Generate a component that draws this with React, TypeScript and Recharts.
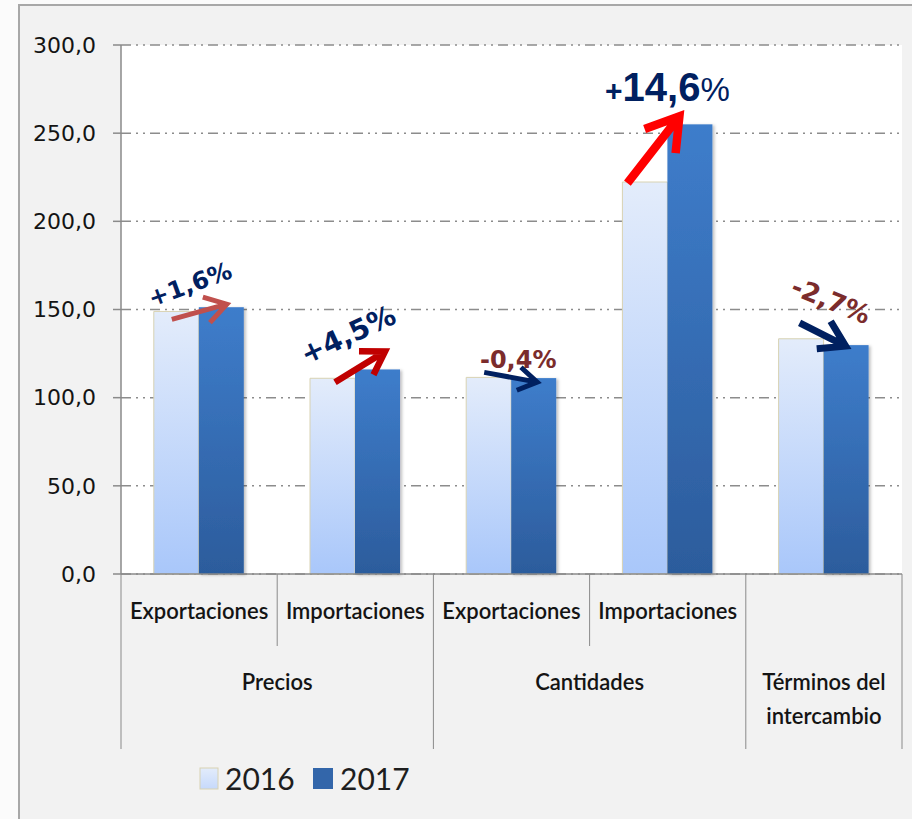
import React from 'react';
import { BarChart, Bar, XAxis, YAxis, CartesianGrid } from 'recharts';

// index values, 2016 vs 2017
const SUBCATEGORIES = ['Exportaciones', 'Importaciones', 'Exportaciones', 'Importaciones', ''];
const GROUPS = ['Precios', 'Precios', 'Cantidades', 'Cantidades', 'Términos del\nintercambio'];
const VALUES_2016 = [148.9, 111.0, 111.5, 222.3, 133.4];
const VALUES_2017 = [151.3, 116.0, 111.1, 255.0, 129.8];
const CHANGE_LABELS = ['+1,6%', '+4,5%', '-0,4%', '+14,6%', '-2,7%'];
const SERIES = ['2016', '2017'];
const Y_TICKS = [0, 50, 100, 150, 200, 250, 300];

const W = 912;
const H = 819;
const PLOT_LEFT = 121;
const PLOT_RIGHT = 902;
const BAND = (PLOT_RIGHT - PLOT_LEFT) / SUBCATEGORIES.length;

const NAVY = '#002060';
const WINE = '#7b2c2c';

// arrow / label styling for each change annotation
const NOTE_STYLE = [
  { text: NAVY, arrow: '#c0504d', stroke: 5, head: 25, from: [18, 8], to: [28, -3], at: [-6, -15], rotate: -20, size: 24 },
  { text: NAVY, arrow: '#c00000', stroke: 6.5, head: 26, from: [25, 4], to: [30, -18], at: [-3, -26], rotate: -25, size: 28 },
  { text: WINE, arrow: NAVY, stroke: 5, head: 22, from: [18, -5], to: [26, 4], at: [7, -10], rotate: 0, size: 24 },
  { text: NAVY, arrow: '#ff0000', stroke: 8.5, head: 37, from: [5, 1], to: [12, -8], at: [0, -23], rotate: 0, size: 40 },
  { text: WINE, arrow: NAVY, stroke: 7, head: 29, from: [21, -16], to: [22, 1], at: [4, -36], rotate: 22, size: 26 },
];

const data = SUBCATEGORIES.map((sub, i) => ({
  id: `${GROUPS[i]}-${sub}`,
  v2016: VALUES_2016[i],
  v2017: VALUES_2017[i],
}));

const fmt = (v: number) => v.toFixed(1).replace('.', ',');

function arrowPath(x1: number, y1: number, x2: number, y2: number, head: number) {
  const a = Math.atan2(y2 - y1, x2 - x1);
  const s = 0.56;
  const ax = x2 - head * Math.cos(a - s);
  const ay = y2 - head * Math.sin(a - s);
  const bx = x2 - head * Math.cos(a + s);
  const by = y2 - head * Math.sin(a + s);
  return `M${x1},${y1} L${x2},${y2} M${ax},${ay} L${x2},${y2} L${bx},${by}`;
}

function ChangeLabel({ i, x, y }: { i: number; x: number; y: number }) {
  const st = NOTE_STYLE[i];
  const label = CHANGE_LABELS[i];
  const transform = st.rotate ? `rotate(${st.rotate} ${x} ${y})` : undefined;
  if (st.size > 30) {
    // big label: small sign and percent around large digits
    const sign = label[0];
    const num = label.slice(1, -1);
    return (
      <text x={x} y={y} textAnchor="middle" fill={st.text} fontFamily="'Liberation Sans', Arial, sans-serif" fontWeight={700} transform={transform}>
        <tspan fontSize={30}>{sign}</tspan>
        <tspan fontSize={st.size}>{num}</tspan>
        <tspan fontSize={33} fontWeight={400}>%</tspan>
      </text>
    );
  }
  return (
    <text x={x} y={y} textAnchor="middle" fill={st.text} fontFamily="'DejaVu Sans', Verdana, sans-serif" fontWeight={700} fontSize={st.size} transform={transform}>
      {label}
    </text>
  );
}

function Bar2017Shape(props: any) {
  const { x, y, width, height, index } = props;
  const st = NOTE_STYLE[index];
  const base = y + height;
  const top16 = base - (height * VALUES_2016[index]) / VALUES_2017[index];
  const x16 = x - width;
  const x1 = x16 + st.from[0];
  const y1 = top16 + st.from[1];
  const x2 = x + st.to[0];
  const y2 = y + st.to[1];
  return (
    <g>
      <rect x={x} y={y} width={width} height={height} fill="url(#grad2017)" filter="url(#barShadow)" />
      <path d={arrowPath(x1, y1, x2, y2, st.head)} fill="none" stroke={st.arrow} strokeWidth={st.stroke} strokeLinejoin="miter" strokeLinecap="butt" />
      <ChangeLabel i={index} x={x + st.at[0]} y={y + st.at[1]} />
    </g>
  );
}

function CategoryTick(props: any) {
  const { x, y, payload } = props;
  const i = payload.index;
  const group = GROUPS[i];
  const groupStart = i === 0 || GROUPS[i - 1] !== group;
  let span = 1;
  while (GROUPS[i + span] === group) span++;
  const left = x - BAND / 2;
  const textProps = { fontFamily: 'Lato, sans-serif', fontWeight: 600, fontSize: 22, fill: '#141414', textAnchor: 'middle' as const };
  return (
    <g>
      <line x1={left} x2={left} y1={y} y2={y + (groupStart ? 175 : 72)} stroke="#8a8a8a" />
      {i === GROUPS.length - 1 && <line x1={x + BAND / 2} x2={x + BAND / 2} y1={y} y2={y + 175} stroke="#8a8a8a" />}
      {SUBCATEGORIES[i] && (
        <text x={x} y={y + 45} {...textProps}>{SUBCATEGORIES[i]}</text>
      )}
      {groupStart &&
        group.split('\n').map((line, k) => (
          <text key={k} x={x + ((span - 1) * BAND) / 2} y={y + 116 + k * 34} {...textProps}>
            {line}
          </text>
        ))}
    </g>
  );
}

export default function App() {
  return (
    <div style={{ position: 'absolute', left: 0, top: 0, width: W, height: H, background: '#fbfbfb', overflow: 'hidden' }}>
      <div style={{ position: 'absolute', left: 18, top: 4, width: W, height: H, background: '#f2f2f2', border: '2px solid #a8a8a8' }} />
      <div style={{ position: 'absolute', left: 0, top: 0 }}>
        <BarChart
          width={W}
          height={H}
          data={data}
          margin={{ top: 45, right: W - PLOT_RIGHT, bottom: 0, left: 0 }}
          barCategoryGap="21%"
          barGap={0}
        >
          <defs>
            <linearGradient id="grad2016" x1="0" y1="0" x2="0" y2="1">
              <stop offset="0%" stopColor="#e3ecfb" />
              <stop offset="100%" stopColor="#a9c7fa" />
            </linearGradient>
            <linearGradient id="grad2017" x1="0" y1="0" x2="0" y2="1">
              <stop offset="0%" stopColor="#3e7dcb" />
              <stop offset="100%" stopColor="#2c5c9c" />
            </linearGradient>
            <filter id="barShadow" x="-20%" y="-5%" width="140%" height="110%">
              <feDropShadow dx="2" dy="1" stdDeviation="1.5" floodColor="#000" floodOpacity="0.25" />
            </filter>
          </defs>
          <CartesianGrid
            vertical={false}
            stroke="#8c8c8c"
            strokeWidth={1.5}
            strokeDasharray="10 5 2 5 2 5"
            fill="#ffffff"
          />
          <XAxis
            dataKey="id"
            height={H - 574}
            interval={0}
            tickSize={0}
            tickMargin={0}
            axisLine={{ stroke: '#8a8a8a', strokeWidth: 1.5 }}
            tickLine={false}
            tick={(p: any) => <CategoryTick {...p} />}
          />
          <YAxis
            width={PLOT_LEFT}
            domain={[0, 300]}
            ticks={Y_TICKS}
            tickFormatter={fmt}
            tickSize={8}
            tickMargin={17}
            axisLine={{ stroke: '#8a8a8a', strokeWidth: 1.5 }}
            tickLine={{ stroke: '#8a8a8a', strokeWidth: 1.5 }}
            tick={{ fontFamily: "'DejaVu Sans', Verdana, sans-serif", fontSize: 22, fill: '#141414' }}
          />
          <Bar dataKey="v2016" fill="url(#grad2016)" stroke="#d8d2b2" strokeWidth={1} isAnimationActive={false} />
          <Bar dataKey="v2017" fill="url(#grad2017)" isAnimationActive={false} shape={(p: any) => <Bar2017Shape {...p} />} />
        </BarChart>
      </div>
      <svg width={W} height={H} style={{ position: 'absolute', left: 0, top: 0, pointerEvents: 'none' }}>
        <defs>
          <linearGradient id="legend2016" x1="0" y1="0" x2="0" y2="1">
            <stop offset="0%" stopColor="#e3ecfb" />
            <stop offset="100%" stopColor="#c6d9fb" />
          </linearGradient>
        </defs>
        {SERIES.map((name, k) => (
          <g key={name}>
            <rect
              x={200 + k * 113}
              y={768}
              width={k === 0 ? 18 : 20}
              height={21}
              fill={k === 0 ? 'url(#legend2016)' : '#3366aa'}
              stroke={k === 0 ? '#d8d2b2' : 'none'}
            />
            <text x={225 + k * 115} y={790} fontFamily="Lato, sans-serif" fontSize={30} fill="#1e1e1e">
              {name}
            </text>
          </g>
        ))}
      </svg>
    </div>
  );
}
